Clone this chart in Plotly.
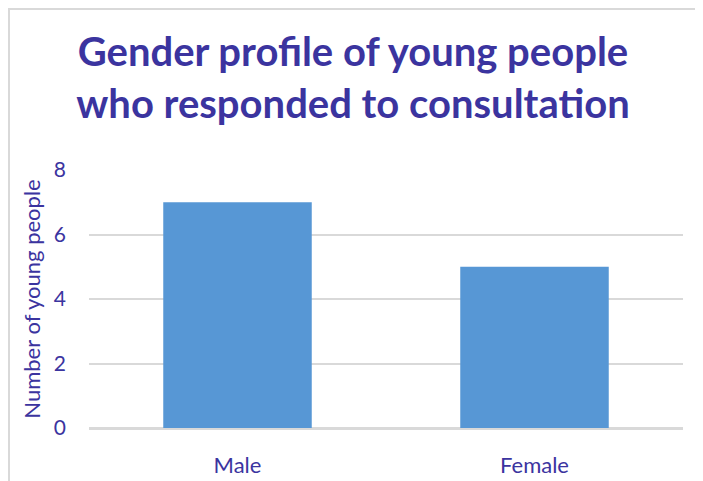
import plotly.graph_objects as go

categories = ["Male", "Female"]
counts = [7, 5]
y_ticks = [0, 2, 4, 6, 8]

TXT = "#3b349f"
FONT = "Lato"

# the page body adds an ~8px offset; margins compensate so the plot lands at 89..683 x 170..428
fig = go.Figure(
    go.Bar(
        x=categories,
        y=counts,
        marker=dict(color="#5797d5", line=dict(width=0)),
        width=0.5,
        hoverinfo="x+y",
    )
)

fig.update_layout(
    width=703,
    height=481,
    paper_bgcolor="white",
    plot_bgcolor="white",
    margin=dict(l=81, r=28, t=162, b=61, autoexpand=False),
    showlegend=False,
    title=dict(
        text="<b>Gender profile of young people<br>who responded to consultation</b>",
        x=(353 - 8) / 703,
        xanchor="center",
        y=1 - 58 / 481,
        yanchor="middle",
        font=dict(family=FONT, size=40, color=TXT),
    ),
    font=dict(family=FONT, color=TXT, size=20),
    bargap=0.5,
)

fig.update_xaxes(
    showgrid=False,
    showline=False,
    zeroline=False,
    ticks="",
    tickfont=dict(family=FONT, size=22, color=TXT),
    ticklabelstandoff=22,
)

fig.update_yaxes(
    range=[0, 8],
    tickvals=y_ticks,
    showgrid=True,
    gridcolor="#d9d9d9",
    gridwidth=1.5,
    zeroline=True,
    zerolinecolor="#d9d9d9",
    zerolinewidth=2.5,
    showline=False,
    ticks="",
    tickfont=dict(family=FONT, size=21, color=TXT),
    ticklabelstandoff=22,
    title=dict(text="Number of young people", font=dict(family=FONT, size=22, color=TXT), standoff=7),
)

# chart-area border (extends beyond the cropped picture on right and bottom)
fig.add_shape(
    type="rect",
    xref="paper",
    yref="paper",
    x0=(82 - 81 - 81) / 594 + 0.0,
    x1=(712 - 89) / 594,
    y0=(428 - 495) / 258,
    y1=(428 - 9) / 258,
    line=dict(color="#d9d9d9", width=2),
    fillcolor="rgba(0,0,0,0)",
    layer="below",
)

fig.write_html("out.html")
